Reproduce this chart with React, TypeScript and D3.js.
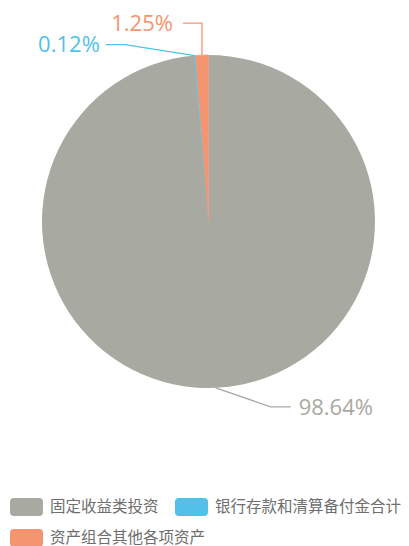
import React from "react";
import * as d3 from "d3";

const categories = ["固定收益类投资", "银行存款和清算备付金合计", "资产组合其他各项资产"];
const values = [98.64, 0.12, 1.25];
const colors = ["#a8a9a0", "#52c1e9", "#f4956f"];

const W = 409;
const H = 546;
const cx = 208.5;
const cy = 221.5;
const R = 166.5;

export default function App() {
  const pie = d3.pie<number>().sort(null).value((d) => d)(values);
  const arc = d3.arc<d3.PieArcDatum<number>>().innerRadius(0).outerRadius(R);

  const pt = (a: number, r: number) => [Math.sin(a) * r, -Math.cos(a) * r];

  const labelLayouts = [
    (s: number[]) => ({ pts: [s, [s[0] + 55, s[1] + 19], [s[0] + 75, s[1] + 19]], tx: s[0] + 83, ty: s[1] + 19, anchor: "start" }),
    (s: number[]) => ({ pts: [s, [s[0] - 70, s[1] - 11], [s[0] - 89, s[1] - 11]], tx: s[0] - 95, ty: s[1] - 11, anchor: "end" }),
    (s: number[]) => ({ pts: [s, [s[0], s[1] - 32], [s[0] - 19, s[1] - 32]], tx: s[0] - 29, ty: s[1] - 32, anchor: "end" }),
  ];

  return (
    <svg width={W} height={H} style={{ position: "absolute", left: 0, top: 0, fontFamily: "'Open Sans', 'Noto Sans CJK SC', sans-serif" }}>
      <g transform={`translate(${cx},${cy})`}>
        {pie.map((p, i) => (
          <path key={i} d={arc(p) || ""} fill={colors[i]} stroke={i === 0 ? "none" : colors[i]} strokeWidth={i === 0 ? 0 : 0.6} />
        ))}
        {pie.map((p, i) => {
          const mid = (p.startAngle + p.endAngle) / 2;
          const s = pt(mid, R);
          const L = labelLayouts[i](s);
          return (
            <g key={"l" + i}>
              <polyline points={L.pts.map((q) => q.join(",")).join(" ")} fill="none" stroke={colors[i]} strokeWidth={1.3} />
              <text x={L.tx} y={L.ty} dy="0.35em" textAnchor={L.anchor as any} fill={colors[i]} fontSize={22}>
                {values[i].toFixed(2)}%
              </text>
            </g>
          );
        })}
      </g>
      <g fontFamily="'Noto Sans CJK SC', sans-serif" fontSize={15.5}>
        {categories.map((c, i) => {
          const x = i === 1 ? 175 : 10;
          const y = i === 2 ? 538 : 507;
          return (
            <g key={c}>
              <rect x={x} y={y - 9} width={33} height={18} rx={4} fill={colors[i]} />
              <text x={x + 40} y={y} dy="0.35em" fill="#6e6e6e">{c}</text>
            </g>
          );
        })}
      </g>
    </svg>
  );
}
